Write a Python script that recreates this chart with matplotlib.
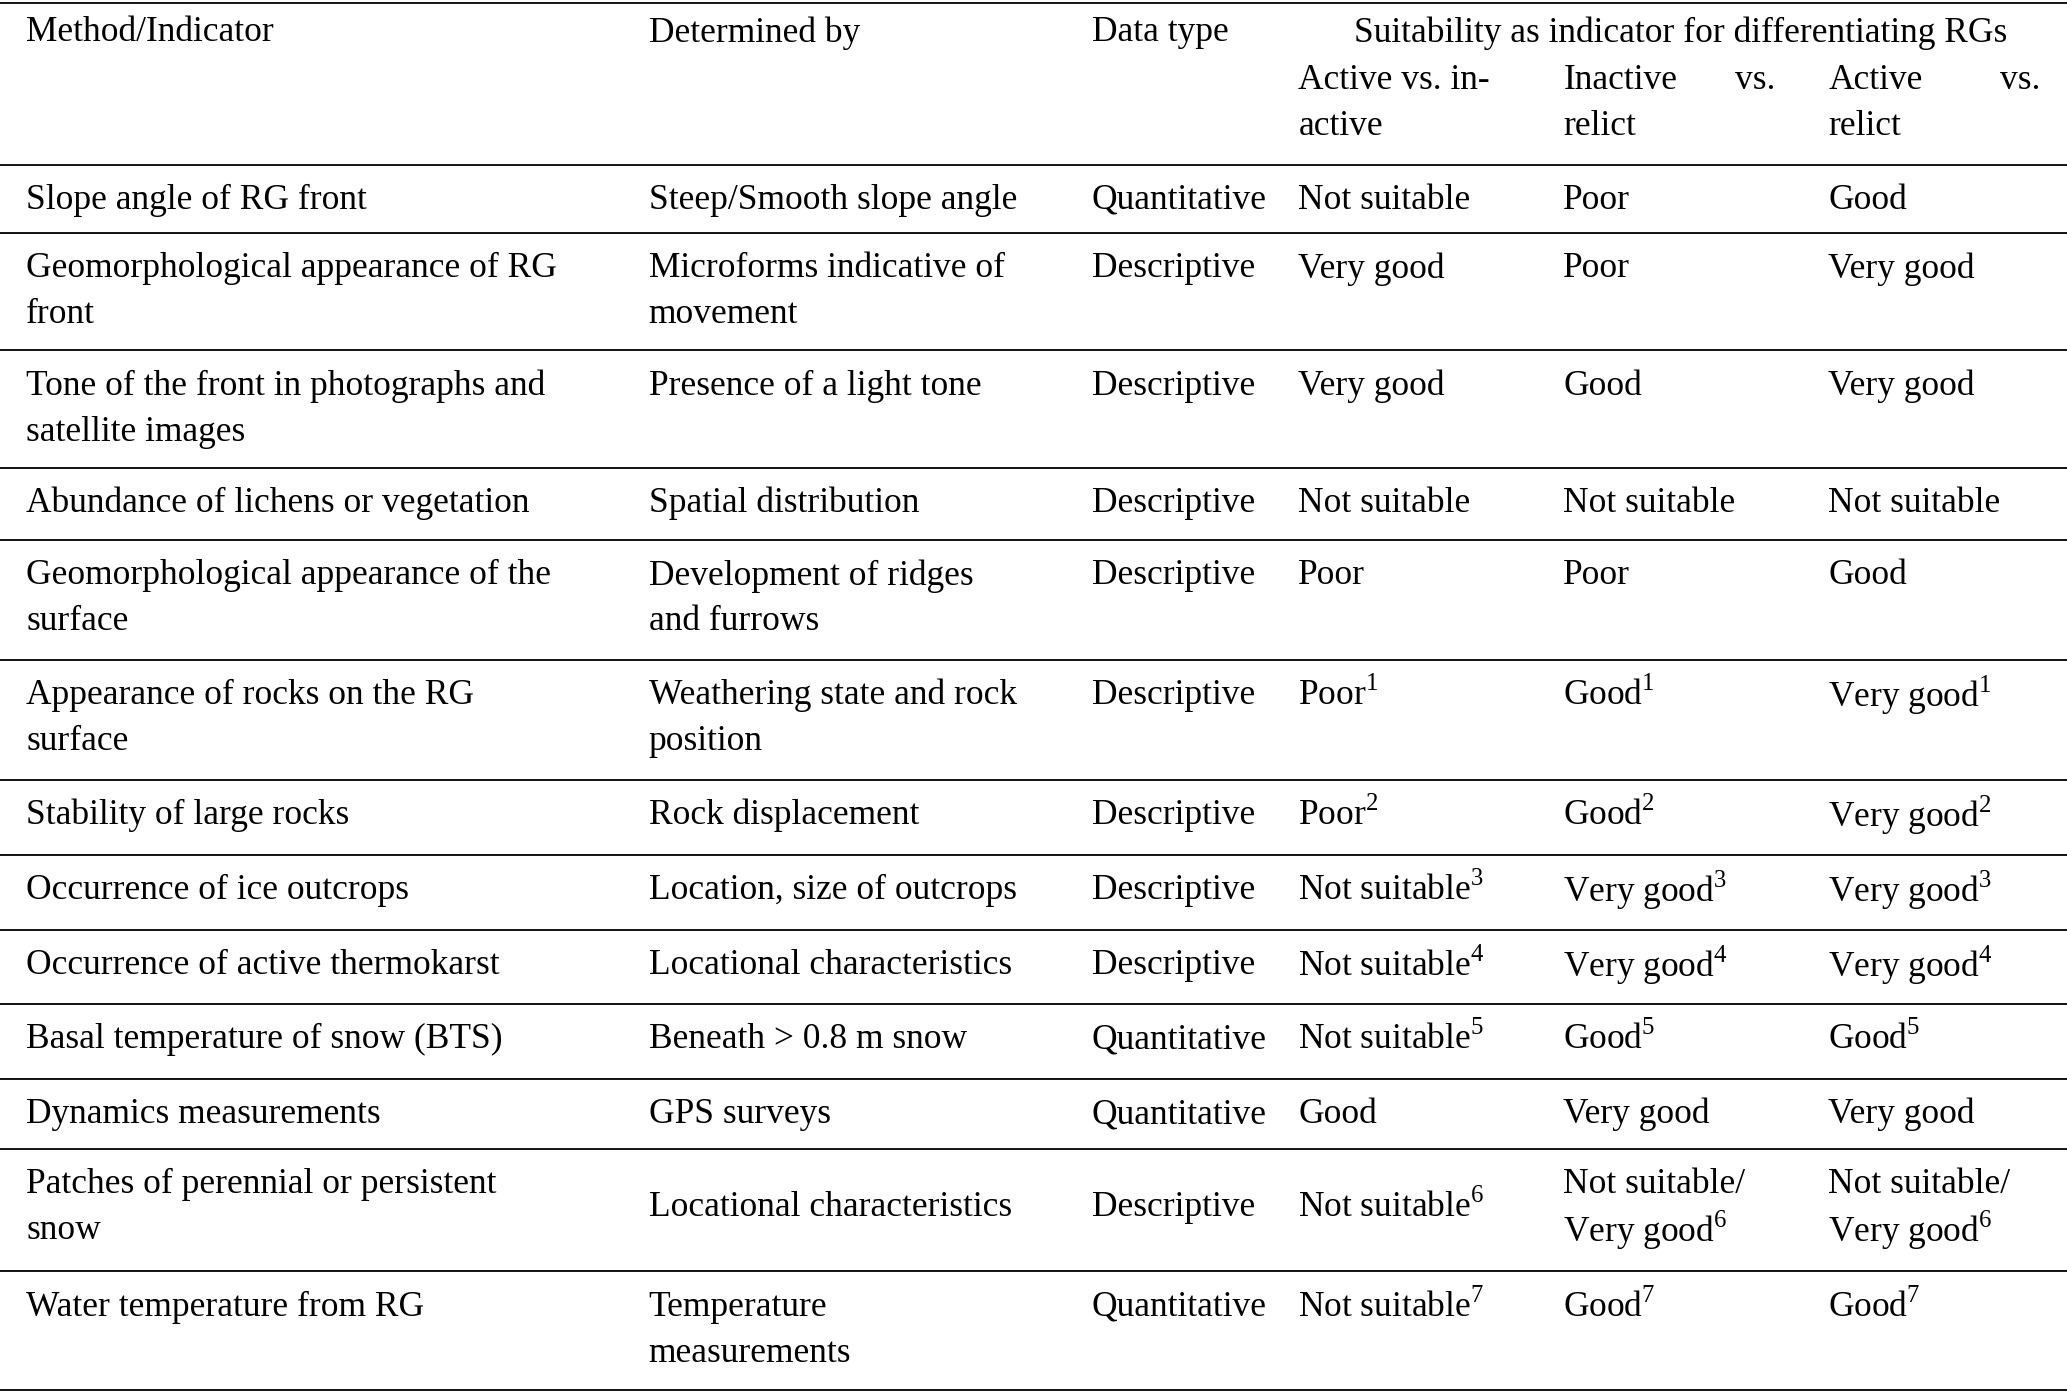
import matplotlib
matplotlib.use("Agg")
import matplotlib.pyplot as plt

plt.rcParams['font.family'] = ['Liberation Serif', 'DejaVu Serif']
plt.rcParams['mathtext.fontset'] = 'custom'
plt.rcParams['mathtext.rm'] = 'Liberation Serif'

methods = ["Slope angle of RG front", "Geomorphological appearance of RG\nfront",
           "Tone of the front in photographs and\nsatellite images", "Abundance of lichens or vegetation",
           "Geomorphological appearance of the\nsurface", "Appearance of rocks on the RG\nsurface",
           "Stability of large rocks", "Occurrence of ice outcrops", "Occurrence of active thermokarst",
           "Basal temperature of snow (BTS)", "Dynamics measurements",
           "Patches of perennial or persistent\nsnow", "Water temperature from RG"]
determined = ["Steep/Smooth slope angle", "Microforms indicative of\nmovement", "Presence of a light tone",
              "Spatial distribution", "Development of ridges\nand furrows", "Weathering state and rock\nposition",
              "Rock displacement", "Location, size of outcrops", "Locational characteristics",
              "Beneath > 0.8 m snow", "GPS surveys", "Locational characteristics", "Temperature\nmeasurements"]
dtype = ["Quantitative", "Descriptive", "Descriptive", "Descriptive", "Descriptive", "Descriptive",
         "Descriptive", "Descriptive", "Descriptive", "Quantitative", "Quantitative", "Descriptive", "Quantitative"]
active_inactive = ["Not suitable", "Very good", "Very good", "Not suitable", "Poor", "Poor", "Poor",
                   "Not suitable", "Not suitable", "Not suitable", "Good", "Not suitable", "Not suitable"]
inactive_relict = ["Poor", "Poor", "Good", "Not suitable", "Poor", "Good", "Good", "Very good", "Very good",
                   "Good", "Very good", "Not suitable/\nVery good", "Good"]
active_relict = ["Good", "Very good", "Very good", "Not suitable", "Good", "Very good", "Very good", "Very good",
                 "Very good", "Good", "Very good", "Not suitable/\nVery good", "Good"]
footnotes = [None, None, None, None, None, 1, 2, 3, 4, 5, None, 6, 7]

W, H = 1568.0, 1058.0
fig = plt.figure(figsize=(20.67, 13.94), dpi=100)
ax = fig.add_axes([0, 0, 1, 1])
ax.set_xlim(0, W); ax.set_ylim(H, 0); ax.axis('off')
FS = 25.5
LS = 35

def txt(x, y, s, ha='left'):
    ax.text(x, y, s, fontsize=FS, ha=ha, va='center', color='black')

seps = [2, 125, 177, 266, 355, 410, 501, 592, 649, 706, 762, 819, 872, 965, 1055]
for y in seps:
    ax.plot([0, W], [y, y], color='black', lw=1.3)

cols = [20, 492, 828, 985, 1186, 1387]
txt(20, 25, "Method/Indicator"); txt(492, 25, "Determined by"); txt(828, 25, "Data type")
txt(1275, 25, "Suitability as indicator for differentiating RGs", ha='center')
txt(985, 61, "Active vs. in-"); txt(985, 96, "active")
txt(1186, 61, "Inactive"); txt(1347, 61, "vs.", ha='right'); txt(1186, 96, "relict")
txt(1387, 61, "Active"); txt(1548, 61, "vs.", ha='right'); txt(1387, 96, "relict")

for i in range(len(methods)):
    top = seps[i + 1]
    y0 = top + 27
    sup = "" if footnotes[i] is None else "$^{%d}$" % footnotes[i]
    cells = [methods[i], determined[i], dtype[i],
             active_inactive[i] + sup, inactive_relict[i] + sup, active_relict[i] + sup]
    nmax = max(c.count("\n") + 1 for c in cells)
    center = i == 11
    for x, c in zip(cols, cells):
        lines = c.split("\n")
        if center and len(lines) < nmax:
            ys = [y0 + (nmax - 1) * LS / 2]
        else:
            ys = [y0 + k * LS for k in range(len(lines))]
        for yy, ln in zip(ys, lines):
            txt(x, yy, ln)

fig.savefig("out.png", dpi=100)
